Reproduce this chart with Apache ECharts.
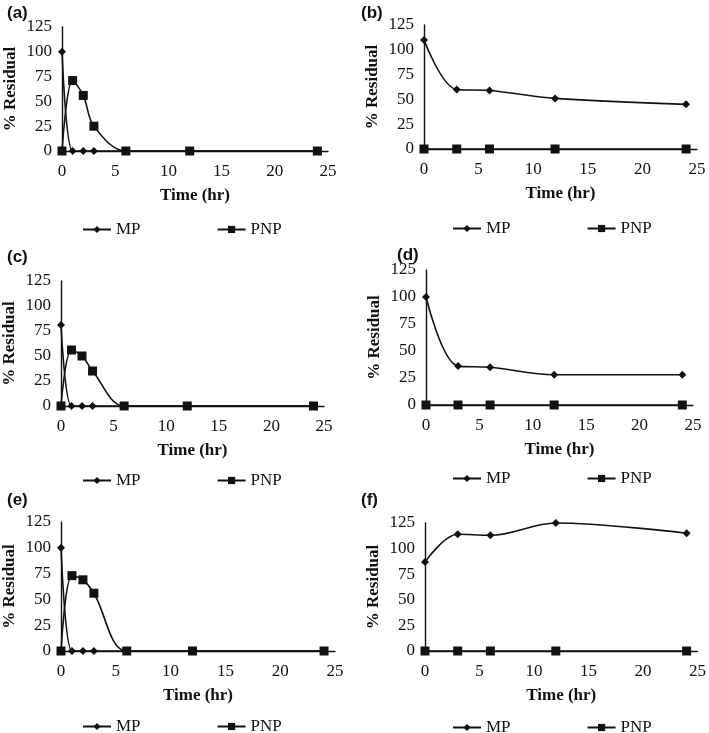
<!DOCTYPE html>
<html><head><meta charset="utf-8">
<script src="https://cdn.jsdelivr.net/npm/echarts@6/dist/echarts.min.js"></script>
<style>html,body{margin:0;padding:0;background:#fff}#c{width:709px;height:733px}</style>
</head><body><div id="c"></div>
<script>
const timeFast = [0, 1, 2, 3, 6, 12, 24];
const timeSlow = [0, 3, 6, 12, 24];
const xTicks = [0, 5, 10, 15, 20, 25];
const yTicks = [0, 25, 50, 75, 100, 125];
const seriesNames = ['MP', 'PNP'];
const panelLabels = ['(a)', '(b)', '(c)', '(d)', '(e)', '(f)'];

const mpA = [100, 0, 0, 0, 0, 0, 0];
const pnpA = [0, 71, 56, 25, 0, 0, 0];
const mpB = [110, 60, 59, 51, 45];
const pnpB = [0, 0, 0, 0, 0];
const mpC = [81, 0, 0, 0, 0, 0, 0];
const pnpC = [0, 56, 50, 35, 0, 0, 0];
const mpD = [100, 36, 35, 28, 28];
const pnpD = [0, 0, 0, 0, 0];
const mpE = [100, 0, 0, 0, 0, 0, 0];
const pnpE = [0, 73, 69, 56, 0, 0, 0];
const mpF = [87, 114, 113, 125, 115];
const pnpF = [0, 0, 0, 0, 0];

const panels = [
  {t: timeFast, mp: mpA, pnp: pnpA},
  {t: timeSlow, mp: mpB, pnp: pnpB},
  {t: timeFast, mp: mpC, pnp: pnpC},
  {t: timeSlow, mp: mpD, pnp: pnpD},
  {t: timeFast, mp: mpE, pnp: pnpE},
  {t: timeSlow, mp: mpF, pnp: pnpF}
];
const layout = [
  {g: {left: 62, top: 27, width: 266, height: 124}, lab: [2, 0], leg: [77, 216]},
  {g: {left: 424, top: 25, width: 273, height: 124}, lab: [356, 0], leg: [447, 215]},
  {g: {left: 58, top: 281, width: 266, height: 125}, lab: [2, 244], leg: [77, 467]},
  {g: {left: 426, top: 270, width: 267, height: 135}, lab: [392, 242], leg: [447, 465]},
  {g: {left: 60, top: 522, width: 275, height: 129}, lab: [2, 487], leg: [77, 713]},
  {g: {left: 425, top: 523, width: 276, height: 128}, lab: [356, 487], leg: [447, 714]}
];
const ink = '#111';
const serif = 'Liberation Serif';
const opt = {backgroundColor: '#fff', animation: false, grid: [], xAxis: [], yAxis: [], series: [], title: [], legend: []};
panels.forEach((p, i) => {
  const L = layout[i];
  opt.grid.push(Object.assign({containLabel: false}, L.g));
  opt.xAxis.push({
    type: 'value', gridIndex: i, min: xTicks[0], max: xTicks[xTicks.length - 1], interval: xTicks[1] - xTicks[0],
    name: 'Time (hr)', nameLocation: 'middle', nameGap: 36,
    nameTextStyle: {fontFamily: serif, fontWeight: 'bold', fontSize: 17, color: ink},
    axisLine: {show: true, onZero: false, lineStyle: {color: ink, width: 1.4}},
    axisTick: {show: false}, splitLine: {show: false},
    axisLabel: {fontFamily: serif, fontSize: 17, color: ink, margin: 12}
  });
  opt.yAxis.push({
    type: 'value', gridIndex: i, min: yTicks[0], max: yTicks[yTicks.length - 1], interval: yTicks[1] - yTicks[0],
    name: '% Residual', nameLocation: 'middle', nameGap: 43,
    nameTextStyle: {fontFamily: serif, fontWeight: 'bold', fontSize: 17, color: ink},
    axisLine: {show: true, lineStyle: {color: ink, width: 1.4}},
    axisTick: {show: false}, splitLine: {show: false},
    axisLabel: {fontFamily: serif, fontSize: 17, color: ink, margin: 10}
  });
  const mk = (name, vals, sym, size) => ({
    name: name, type: 'line', xAxisIndex: i, yAxisIndex: i, smooth: 0.35, clip: false,
    data: p.t.map((t, k) => [t, vals[k]]),
    symbol: sym, symbolSize: size,
    lineStyle: {color: ink, width: 1.6}, itemStyle: {color: ink}
  });
  opt.series.push(mk(seriesNames[0], p.mp, 'diamond', 8));
  opt.series.push(mk(seriesNames[1], p.pnp, 'rect', 9));
  opt.title.push({text: panelLabels[i], left: L.lab[0], top: L.lab[1],
    textStyle: {fontFamily: 'Liberation Sans', fontWeight: 'bold', fontSize: 17, color: ink}});
  opt.legend.push({data: seriesNames, left: L.leg[0], top: L.leg[1], itemGap: 76, itemWidth: 28, itemHeight: 9,
    textStyle: {fontFamily: serif, fontSize: 17, color: ink}, selectedMode: false});
});
const chart = echarts.init(document.getElementById('c'));
chart.setOption(opt);
</script></body></html>
